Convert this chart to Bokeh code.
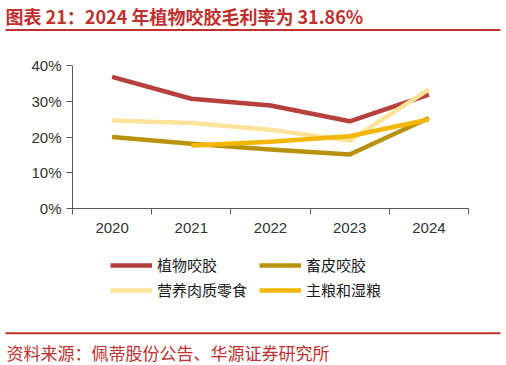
from bokeh.plotting import figure
from bokeh.models import (Range1d, FixedTicker, PrintfTickFormatter, Legend, LegendItem,
                          Label, BoxAnnotation)
from bokeh.embed import file_html
from bokeh.resources import INLINE

years = ["2020", "2021", "2022", "2023", "2024"]
plant_chews = [36.8, 30.7, 28.8, 24.4, 31.86]        # 植物咬胶
hide_chews = [20.0, 18.1, 16.5, 15.1, 25.3]          # 畜皮咬胶
meat_snacks = [24.6, 23.9, 22.0, 19.0, 33.3]         # 营养肉质零食
staple_wet = [float("nan"), 17.6, 18.7, 20.2, 24.9]  # 主粮和湿粮
y_ticks = [0, 10, 20, 30, 40]

series_names = ["植物咬胶", "畜皮咬胶", "营养肉质零食", "主粮和湿粮"]
series_values = [plant_chews, hide_chews, meat_snacks, staple_wet]
series_colors = ["#B5403E", "#B8920C", "#FDE39A", "#F2B705"]
legend_order = [0, 2, 1, 3]   # fills column by column -> rows read 植物/畜皮, 营养/主粮

title_text = "图表 21：2024 年植物咬胶毛利率为 31.86%"
source_text = "资料来源：佩蒂股份公告、华源证券研究所"

RED = "#C0302F"
AXIS = "#595959"
FONT = "Liberation Sans"
CJK = "Noto Sans CJK SC"

# page layout (pixels): the plotting area spans the whole canvas
W, H = 506, 365
PLOT_L, PLOT_R, PLOT_T, PLOT_B = 72, 468, 65, 208
ncat = len(years)
px_x = (PLOT_R - PLOT_L) / ncat
px_y = (PLOT_B - PLOT_T) / 40
x_range = Range1d(-PLOT_L / px_x, ncat + (W - PLOT_R) / px_x)
y_range = Range1d(-(H - PLOT_B) / px_y, 40 + PLOT_T / px_y)

xs = [i + 0.5 for i in range(ncat)]

p = figure(width=W, height=H, output_backend="svg", toolbar_location=None,
           x_range=x_range, y_range=y_range,
           min_border=0, min_border_left=0, min_border_right=0,
           min_border_top=0, min_border_bottom=0,
           background_fill_color="white", border_fill_color="white")
p.grid.visible = False
p.outline_line_color = None

# x axis drawn at y = 0: labels at centres, ticks at category boundaries
p.xaxis.fixed_location = 0
p.xaxis.bounds = (0, ncat)
p.xaxis.ticker = FixedTicker(ticks=xs, minor_ticks=list(range(ncat + 1)))
p.xaxis.major_label_overrides = {x: y for x, y in zip(xs, years)}
p.xaxis.major_tick_in = 0
p.xaxis.major_tick_out = 0
p.xaxis.minor_tick_in = 0
p.xaxis.minor_tick_out = 6
p.xaxis.minor_tick_line_color = AXIS
p.xaxis.axis_line_color = AXIS
p.xaxis.major_label_standoff = 8
p.xaxis.major_label_text_font = FONT
p.xaxis.major_label_text_font_size = "15px"
p.xaxis.major_label_text_color = "#333333"

p.yaxis.fixed_location = 0
p.yaxis.bounds = (0, 40)
p.yaxis.ticker = FixedTicker(ticks=y_ticks, minor_ticks=[])
p.yaxis.formatter = PrintfTickFormatter(format="%d%%")
p.yaxis.major_tick_in = 0
p.yaxis.major_tick_out = 6
p.yaxis.major_tick_line_color = AXIS
p.yaxis.axis_line_color = AXIS
p.yaxis.major_label_standoff = 5
p.yaxis.major_label_text_font = FONT
p.yaxis.major_label_text_font_size = "15px"
p.yaxis.major_label_text_color = "#333333"

renderers = []
for vals, col in zip(series_values, series_colors):
    renderers.append(p.line(xs, vals, line_color=col, line_width=4.5, line_join="round"))

items = [LegendItem(label=series_names[i], renderers=[renderers[i]]) for i in legend_order]


def fy(page_y):
    return H - page_y


legend = Legend(items=items, location=(110, fy(300)), ncols=2,
                glyph_width=42, label_width=98, label_height=20, spacing=4,
                padding=0, margin=0, label_standoff=5,
                border_line_color=None, background_fill_alpha=0,
                label_text_font=CJK, label_text_font_size="15px",
                label_text_color="#1a1a1a")
p.add_layout(legend)

# title and source (screen units)
p.add_layout(Label(x=5, y=fy(15.5), x_units="screen", y_units="screen", text=title_text,
                   text_font=CJK, text_font_size="18px", text_font_style="bold",
                   text_color=RED, text_baseline="middle"))
p.add_layout(BoxAnnotation(left=5, right=500, bottom=fy(30.5), top=fy(28.5),
                           left_units="screen", right_units="screen",
                           bottom_units="screen", top_units="screen",
                           fill_color=RED, fill_alpha=1, line_alpha=0))
p.add_layout(BoxAnnotation(left=5, right=500, bottom=fy(333.7), top=fy(331.7),
                           left_units="screen", right_units="screen",
                           bottom_units="screen", top_units="screen",
                           fill_color=RED, fill_alpha=1, line_alpha=0))
p.add_layout(Label(x=6, y=fy(351.5), x_units="screen", y_units="screen", text=source_text,
                   text_font=CJK, text_font_size="17px",
                   text_color=RED, text_baseline="middle"))

open("out.html", "w").write(file_html(p, INLINE))
